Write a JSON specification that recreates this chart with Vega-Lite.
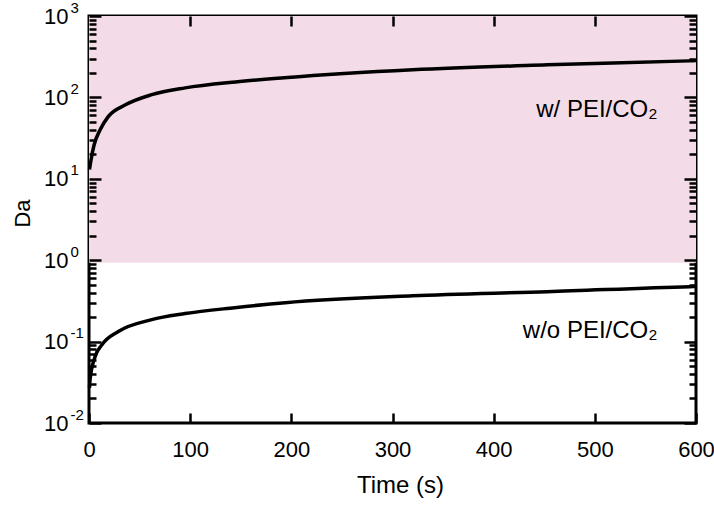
{
  "$schema": "https://vega.github.io/schema/vega-lite/v6.json",
  "width": 607,
  "height": 407,
  "autosize": {"type": "none"},
  "padding": {"left": 89, "top": 16, "right": 18, "bottom": 87},
  "background": "white",
  "config": {
    "font": "Liberation Sans",
    "view": {"stroke": "black", "strokeWidth": 3},
    "axis": {"grid": false, "domain": false, "tickColor": "black", "tickWidth": 2.5, "labelColor": "black", "titleColor": "black", "labelFontSize": 22, "titleFontSize": 22, "titleFontWeight": "normal", "labelOverlap": false, "labelFlush": false}
  },
  "resolve": {"axis": {"x": "independent", "y": "independent"}},
  "layer": [
    {
      "data": {"values": [{"x1": 0, "x2": 600, "y1": 0.93, "y2": 1000}]},
      "mark": {"type": "rect", "color": "#f3dce7"},
      "encoding": {
        "x": {"field": "x1", "type": "quantitative", "scale": {"domain": [0, 600], "nice": false},
          "axis": {"orient": "top", "zindex": 2, "title": null, "labels": false, "values": [100, 200, 300, 400, 500], "tickSize": -10}},
        "x2": {"field": "x2"},
        "y": {"field": "y1", "type": "quantitative", "scale": {"type": "log", "domain": [0.01, 1000], "nice": false},
          "axis": {"orient": "right", "zindex": 2, "title": null, "labels": false,
            "values": [0.01,0.02,0.03,0.04,0.05,0.06,0.07,0.08,0.09,0.1,0.2,0.3,0.4,0.5,0.6,0.7,0.8,0.9,1,2,3,4,5,6,7,8,9,10,20,30,40,50,60,70,80,90,100,200,300,400,500,600,700,800,900,1000],
            "tickSize": {"condition": {"test": "indexof([0.01,0.1,1,10,100,1000], datum.value) >= 0", "value": -12}, "value": -7}}},
        "y2": {"field": "y2"}
      }
    },
    {
      "data": {"values": [
        {"series": "with", "t": 0.5, "Da": 13},
        {"series": "with", "t": 2, "Da": 17},
        {"series": "with", "t": 5, "Da": 26},
        {"series": "with", "t": 11, "Da": 40},
        {"series": "with", "t": 19, "Da": 58},
        {"series": "with", "t": 36, "Da": 81},
        {"series": "with", "t": 62, "Da": 108},
        {"series": "with", "t": 95, "Da": 131},
        {"series": "with", "t": 145, "Da": 155},
        {"series": "with", "t": 193, "Da": 174},
        {"series": "with", "t": 320, "Da": 218},
        {"series": "with", "t": 453, "Da": 251},
        {"series": "with", "t": 593, "Da": 281},
        {"series": "with", "t": 600, "Da": 283},
        {"series": "without", "t": 0.5, "Da": 0.027},
        {"series": "without", "t": 1, "Da": 0.034},
        {"series": "without", "t": 6, "Da": 0.065},
        {"series": "without", "t": 13, "Da": 0.092},
        {"series": "without", "t": 29, "Da": 0.133},
        {"series": "without", "t": 62, "Da": 0.186},
        {"series": "without", "t": 95, "Da": 0.221},
        {"series": "without", "t": 144, "Da": 0.261},
        {"series": "without", "t": 194, "Da": 0.301},
        {"series": "without", "t": 320, "Da": 0.366},
        {"series": "without", "t": 453, "Da": 0.41},
        {"series": "without", "t": 594, "Da": 0.473},
        {"series": "without", "t": 600, "Da": 0.475}
      ]},
      "mark": {"type": "line", "color": "black", "strokeWidth": 3.5, "interpolate": "monotone"},
      "encoding": {
        "x": {"field": "t", "type": "quantitative", "scale": {"domain": [0, 600], "nice": false},
          "axis": {"orient": "bottom", "zindex": 2, "title": "Time (s)", "titleFontSize": 24, "titleX": 311, "values": [0, 100, 200, 300, 400, 500, 600], "tickSize": -10, "labelPadding": 26, "titlePadding": 13}},
        "y": {"field": "Da", "type": "quantitative", "scale": {"type": "log", "domain": [0.01, 1000], "nice": false},
          "axis": {"orient": "left", "zindex": 2, "title": "Da", "titlePadding": 9, "titleY": 197,
            "values": [0.01,0.02,0.03,0.04,0.05,0.06,0.07,0.08,0.09,0.1,0.2,0.3,0.4,0.5,0.6,0.7,0.8,0.9,1,2,3,4,5,6,7,8,9,10,20,30,40,50,60,70,80,90,100,200,300,400,500,600,700,800,900,1000],
            "tickSize": {"condition": {"test": "indexof([0.01,0.1,1,10,100,1000], datum.value) >= 0", "value": -12}, "value": -7},
            "labelPadding": 33,
            "labelExpr": "indexof([0.01,0.1,1,10,100,1000], datum.value) >= 0 ? '10' : ''"}},
        "detail": {"field": "series"}
      }
    },
    {
      "data": {"values": [
        {"t": 562, "Da": 57.7, "label": "w/ PEI/CO₂"},
        {"t": 562, "Da": 0.112, "label": "w/o PEI/CO₂"}
      ]},
      "mark": {"type": "text", "align": "right", "baseline": "alphabetic", "fontSize": 24, "color": "black"},
      "encoding": {
        "x": {"field": "t", "type": "quantitative", "axis": null},
        "y": {"field": "Da", "type": "quantitative", "scale": {"type": "log"},
          "axis": {"orient": "left", "zindex": 2, "title": null, "values": [0.01, 0.1, 1, 10, 100, 1000], "tickSize": 0, "tickOpacity": 0,
            "labelAlign": "left", "labelPadding": 19, "labelOffset": -9, "labelFontSize": 15,
            "labelExpr": "datum.value == 1000 ? '3' : datum.value == 100 ? '2' : datum.value == 10 ? '1' : datum.value == 1 ? '0' : datum.value == 0.1 ? '-1' : '-2'"}},
        "text": {"field": "label"}
      }
    }
  ]
}
